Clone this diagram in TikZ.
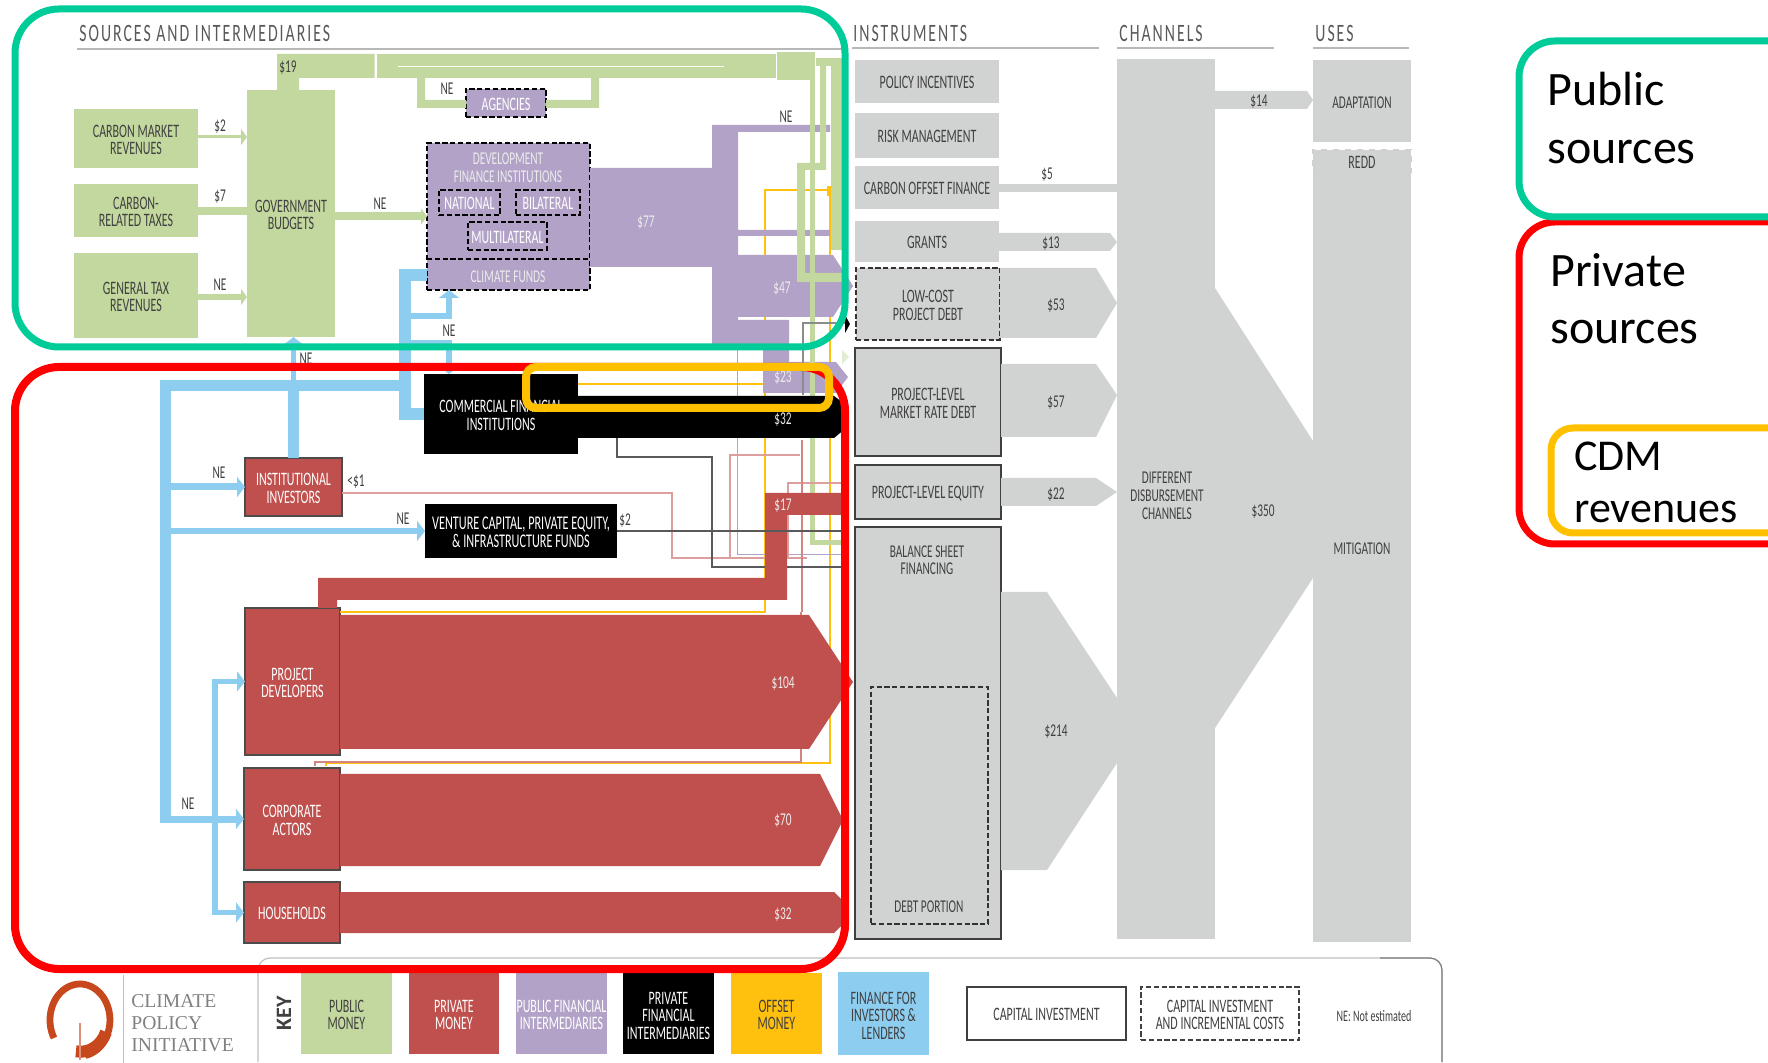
\documentclass[tikz,border=0pt]{standalone}
\usepackage{fontspec}
\setmainfont{Carlito}
\newfontfamily\narrowfont[FakeStretch=0.63]{Carlito}
\newfontfamily\logofont{Liberation Serif}
\usetikzlibrary{arrows.meta,positioning}
\definecolor{pubgreen}{HTML}{C3D89E}
\definecolor{pvtred}{HTML}{C0504D}
\definecolor{pubpurple}{HTML}{B2A2C7}
\definecolor{offset}{HTML}{FFC00E}
\definecolor{finblue}{HTML}{8DCDF0}
\definecolor{flowgrey}{HTML}{D1D3D2}
\definecolor{txtgrey}{HTML}{404040}
\definecolor{framegreen}{HTML}{00CC99}
\definecolor{framered}{HTML}{FF0000}
\definecolor{frameamber}{HTML}{FFC000}
\definecolor{logoring}{HTML}{C8481E}

\begin{document}
\begin{tikzpicture}[
    x=0.5pt, y=-0.5pt,
    wh/.style 2 args={minimum width=#1*0.5pt, minimum height=#2*0.5pt},
    box/.style={inner sep=0pt, outer sep=0pt, align=center, text=txtgrey, font=\narrowfont\fontsize{9.5}{8.9}\selectfont, execute at begin node={\rule{0pt}{7.5pt}}},
    multi/.style={text height=#1},
    multi/.default=16.4pt,
    srcbox/.style={box, fill=pubgreen},
    dfibox/.style={box, fill=pubpurple, text=white, draw=black, line width=1.2pt, dash pattern=on 2.6pt off 1.3pt},
    pvtbox/.style={box, fill=pvtred, text=white, draw=black!70, line width=0.9pt},
    blackbox/.style={box, fill=black, text=white},
    instbox/.style={box, fill=flowgrey},
    capbox/.style={instbox, draw=black!75, line width=1.1pt},
    dashbox/.style={instbox, draw=black!80, line width=1.1pt, dash pattern=on 2.6pt off 1.3pt},
    keybox/.style={box, fill=#1},
    flowtxt/.style={inner sep=0pt, yshift=-0.4pt, text=txtgrey, align=center, font=\narrowfont\fontsize{9}{8.9}\selectfont},
    paletxt/.style={flowtxt, text=white!92!black},
    headtxt/.style={inner sep=0pt, anchor=west, text=black!65, font=\narrowfont\fontsize{12.5}{13}\selectfont\addfontfeature{LetterSpace=8}},
    rulerline/.style={draw=black!28, line width=1.4pt},
    greenflow/.style={fill=pubgreen},
    greenline/.style={draw=pubgreen, line width=#1},
    blueline/.style={draw=finblue, line width=#1},
    bluetip/.style={-{Triangle[length=4pt,width=10pt]}},
    greentip/.style={-{Triangle[length=3pt,width=8pt]}},
    thinred/.style={draw=pvtred!55, line width=0.6pt},
    frame/.style={inner sep=0pt, outer sep=0pt, rounded corners=#1},
    bigtxt/.style={inner sep=0pt, anchor=west, text=black, font=\fontsize{24}{24}\selectfont}
  ]
    \useasboundingbox (0,0) rectangle (1768,1063);
    \clip (0,0) rectangle (1768,1063);

    % headings
    \node[headtxt] (headsources) at (79,33) {SOURCES AND INTERMEDIARIES};
    \node[headtxt] (headinstr) at (853,33) {INSTRUMENTS};
    \node[headtxt] (headchan) at (1119,33) {CHANNELS};
    \node[headtxt] (headuses) at (1315,33) {USES};
    \draw[rulerline] (77,49) -- (848,49);
    \draw[rulerline] (852,48) -- (1099,48);
    \draw[rulerline] (1117,48) -- (1274,48);
    \draw[rulerline] (1313,48) -- (1409,48);

    % sources
    \node[srcbox, multi, wh={124}{59}] (market) at (136,138.5) {CARBON MARKET\\REVENUES};
    \node[srcbox, multi, wh={124}{53}] (taxes) at (136,210.5) {CARBON-\\RELATED TAXES};
    \node[srcbox, multi, wh={124}{85}] (general) at (136,295.5) {GENERAL TAX\\REVENUES};
    \node[srcbox, multi, wh={88}{247}] (budgets) at (291,213.5) {GOVERNMENT\\BUDGETS};

    % intermediaries
    \node[dfibox, wh={163}{147}] (dfi) at (508.5,216.5) {};
    \draw[black, line width=1.2pt, dash pattern=on 2.6pt off 1.3pt] (dfi.west |- 0,259) -- (dfi.east |- 0,259);
    \node[paletxt] (dfitext) at (508,167) {DEVELOPMENT\\FINANCE INSTITUTIONS};
    \node[dfibox, wh={61}{25}] (national) at (469.5,202.5) {NATIONAL};
    \node[dfibox, wh={64}{25}] (bilateral) at (548,202.5) {BILATERAL};
    \node[dfibox, wh={79}{28}] (multilateral) at (507.5,236) {MULTILATERAL};
    \node[paletxt] (climatefunds) at (508,276) {CLIMATE FUNDS};
    \node[dfibox, wh={80}{28}] (agencies) at (506,103) {AGENCIES};

    \node[blackbox, multi, wh={154}{80}] (commercial) at (501,414) {COMMERCIAL FINANCIAL\\INSTITUTIONS};
    \node[pvtbox, multi, wh={97}{58}] (institutional) at (293.5,487) {INSTITUTIONAL\\INVESTORS};
    \node[blackbox, multi, wh={192}{54}, font=\narrowfont\fontsize{9.7}{8.9}\selectfont] (venture) at (521,531) {VENTURE CAPITAL, PRIVATE EQUITY,\\\& INFRASTRUCTURE FUNDS};
    \node[pvtbox, multi, wh={95}{147}] (developers) at (292.5,681.5) {PROJECT\\DEVELOPERS};
    \node[pvtbox, multi, wh={96}{102}] (corporate) at (292,819) {CORPORATE\\ACTORS};
    \node[pvtbox, wh={96}{61}] (households) at (292,912.5) {HOUSEHOLDS};

    % instruments
    \node[instbox, wh={144}{43}] (policy) at (927,81.5) {POLICY INCENTIVES};
    \node[instbox, wh={144}{45}] (risk) at (927,135.5) {RISK MANAGEMENT};
    \node[instbox, wh={144}{43}] (offsetfin) at (927,187.5) {CARBON OFFSET FINANCE};
    \node[instbox, wh={144}{41}] (grants) at (927,241.5) {GRANTS};
    \node[dashbox, multi, wh={144}{72}] (lowcost) at (928,304) {LOW-COST\\PROJECT DEBT};
    \node[capbox, multi, wh={146}{108}] (marketdebt) at (928,402) {PROJECT-LEVEL\\MARKET RATE DEBT};
    \node[capbox, wh={146}{54}] (equity) at (928,492) {PROJECT-LEVEL EQUITY};
    \node[capbox, wh={146}{412}] (balance) at (928,733) {};
    \node[flowtxt] (balancetext) at (927,559.5) {BALANCE SHEET\\FINANCING};
    \node[dashbox, wh={117}{237}] (debtpart) at (929.5,805.5) {};
    \node[flowtxt] (debttext) at (929,906) {DEBT PORTION};

    % channels and uses
    \node[instbox, wh={98}{880}] (channels) at (1166,499) {};
    \fill[flowgrey] (channels.east |- 0,288) -- (1313,441) -- (1313,578) -- (channels.east |- 0,728) -- cycle;
    \node[flowtxt] (channelstext) at (1167,495) {DIFFERENT\\DISBURSEMENT\\CHANNELS};
    \node[instbox, wh={98}{82}] (adaptation) at (1362,101) {};
    \node[flowtxt] (adaptationtext) at (1362,102) {ADAPTATION};
    \node[instbox, wh={98}{770}] (mitigation) at (1362,557) {};
    \node[flowtxt] (mitigationtext) at (1362,548) {MITIGATION};
    \node[instbox, wh={98}{22}, draw=black!18, line width=0.6pt, dashed] (redd) at (1362,161) {REDD};

    % grey flows
    \fill[flowgrey] (offsetfin.east |- 0,184) -- (channels.west |- 0,184) -- (channels.west |- 0,192) -- (offsetfin.east |- 0,192) -- cycle;
    \fill[flowgrey] (grants.east |- 0,233) -- (1110,233) -- (channels.west |- 0,242) -- (1110,251) -- (grants.east |- 0,251) -- cycle;
    \fill[flowgrey] (lowcost.east |- 0,268) -- (1096,268) -- (channels.west |- 0,303) -- (1096,338) -- (lowcost.east |- 0,338) -- cycle;
    \fill[flowgrey] (marketdebt.east |- 0,364) -- (1096,364) -- (channels.west |- 0,395) -- (1096,437) -- (marketdebt.east |- 0,437) -- cycle;
    \fill[flowgrey] (equity.east |- 0,478) -- (1096,478) -- (channels.west |- 0,492) -- (1096,506) -- (equity.east |- 0,506) -- cycle;
    \fill[flowgrey] (balance.east |- 0,592) -- (1047,592) -- (channels.west |- 0,698) -- (channels.west |- 0,763) -- (1047,870) -- (balance.east |- 0,870) -- cycle;
    \fill[flowgrey] (channels.east |- 0,91) -- (1307,91) -- (adaptation.west |- 0,100) -- (1307,109) -- (channels.east |- 0,109) -- cycle;
    \node[flowtxt] (v5) at (1047,174) {\$5};
    \node[flowtxt] (v13) at (1051,243) {\$13};
    \node[flowtxt] (v53) at (1056,305) {\$53};
    \node[flowtxt] (v57) at (1056,402) {\$57};
    \node[flowtxt] (v22) at (1056,494) {\$22};
    \node[flowtxt] (v214) at (1056,731) {\$214};
    \node[flowtxt] (v350) at (1263,511) {\$350};
    \node[flowtxt] (v14) at (1259,101) {\$14};

    % finance for investors and lenders
    \draw[blueline=5.5pt] (165.5,823) -- (165.5,385.5) -- (405,385.5);
    \draw[blueline=6pt] (dfi.west |- 0,275.5) -- (404.5,275.5) -- (404.5,414) -- (commercial.west);
    \draw[blueline=3pt, bluetip] (410,316) -- (449,316) -- (449,0 |- dfi.south);
    \draw[blueline=3pt, bluetip] (410,343) -- (449,343) -- (449,0 |- commercial.north);
    \draw[blueline=5.5pt] (institutional.north) -- (institutional.north |- 0,385.5);
    \draw[blueline=2.5pt, bluetip] (institutional.north |- 0,385.5) -- (institutional.north |- budgets.south);
    \draw[blueline=3.5pt, bluetip] (171,487) -- (institutional.west);
    \draw[blueline=3pt, bluetip] (171,531) -- (venture.west);
    \draw[blueline=3.5pt, bluetip] (160,819) -- (corporate.west);
    \draw[blueline=2.75pt, bluetip] (215,819) -- (215,681.5) -- (developers.west);
    \draw[blueline=2.75pt, bluetip] (215,819) -- (215,912.5) -- (households.west);
    \node[flowtxt] (neinvest) at (219,472) {NE};
    \node[flowtxt] (neventure) at (403,518) {NE};
    \node[flowtxt] (necorp) at (188,803) {NE};
    \node[flowtxt] (nedfi) at (449,330) {NE};
    \node[flowtxt] (nebudget) at (306,358) {NE};

    % offset money
    \draw[offset, line width=1.1pt] (developers.east |- 0,612) -- (765,612) -- (765,190) -- (827,190);
    \fill[offset] (827,186) rectangle (832,196);
    \draw[offset, line width=1.1pt] (commercial.east |- 0,384) -- (763,384);
    \draw[offset, line width=1pt] (326,766) -- (326,763) -- (830,763) -- (830,190);

    % public money
    \fill[greenflow] (277,90) -- (277,54) -- (374.5,54) -- (374.5,78) -- (299,78) -- (299,90) -- cycle;
    \fill[greenflow] (377,54) rectangle (776,78);
    \fill[greenflow] (777,52) rectangle (815,80);
    \draw[white, line width=0.5pt] (398,67) -- (724,67);
    \fill[greenflow] (417,78) -- (425,78) -- (425,100) -- (agencies.west |- 0,100) -- (agencies.west |- 0,108) -- (417,108) -- cycle;
    \fill[greenflow] (591,78) -- (599,78) -- (599,108) -- (agencies.east |- 0,108) -- (agencies.east |- 0,100) -- (591,100) -- cycle;
    \draw[greenline=1.5pt, greentip] (market.east |- 0,137) -- (budgets.west |- 0,137);
    \draw[greenline=4pt] (taxes.east |- 0,211) -- (budgets.west |- 0,211);
    \draw[greenline=3pt, greentip] (general.east |- 0,297) -- (budgets.west |- 0,297);
    \draw[greenline=4pt, greentip] (budgets.east |- dfi.west) -- (dfi.west);
    \node[flowtxt] (v2) at (220,126) {\$2};
    \node[flowtxt] (v7) at (220,196) {\$7};
    \node[flowtxt] (negeneral) at (220,284) {NE};
    \node[flowtxt] (nebudgetdfi) at (380,203) {NE};
    \node[flowtxt] (v19) at (288,67) {\$19};
    \node[flowtxt] (neagencies) at (447,88) {NE};

    % public financial intermediaries
    \fill[pubpurple] (dfi.east |- 0,168) -- (712,168) -- (712,125) -- (830,125) -- (830,132) -- (738,132) -- (738,230) -- (830,230) -- (830,236) -- (738,236) -- (738,255) -- (833,255) -- (853,286) -- (833,317) -- (738,317) -- (738,320) -- (789,320) -- (789,362) -- (836,362) -- (848,377) -- (836,393) -- (763,393) -- (763,350) -- (712,350) -- (712,267) -- (dfi.east |- 0,267) -- cycle;
    \draw[pubpurple, line width=0.5pt] (737,350) -- (737,555) -- (845,555);
    \node[paletxt] (v77) at (646,222) {\$77};
    \node[paletxt] (v47) at (782,288) {\$47};
    \node[paletxt] (v23) at (783,377) {\$23};
    \node[flowtxt] (nepurple) at (786,116) {NE};

    % green lines to the instruments
    \fill[greenflow] (816,58) rectangle (848,66);
    \fill[greenflow] (831,66) rectangle (842,250);
    \fill[greenflow] (820,66) -- (826,66) -- (826,170) -- (805,170) -- (805,273) -- (848,273) -- (848,282) -- (797,282) -- (797,163) -- (820,163) -- cycle;
    \fill[greenflow] (810,80) rectangle (815,396);
    \fill[greenflow] (810,438) rectangle (815,545);
    \fill[greenflow] (810,540) rectangle (845,545);
    \fill[pubgreen!45] (842,350) -- (849,357) -- (842,364) -- cycle;

    % thin lines
    \draw[thinred] (institutional.east |- 0,493) -- (672,493) -- (672,558) -- (807,558);
    \draw[thinred] (730,558) -- (730,455) -- (800,455);
    \draw[thinred] (788,558) -- (788,483) -- (845,483);
    \draw[pvtred!70, line width=0.8pt] (802,440) -- (802,612);
    \draw[pvtred!70, line width=0.8pt] (315,766) -- (315,762) -- (801,762) -- (801,612);
    \draw[black!45, line width=0.6pt] (803,395) -- (803,323) -- (845,323);
    \fill[black] (845,315) -- (850,324) -- (845,333) -- cycle;

    % private financial intermediaries
    \fill[black] (commercial.east |- 0,396) -- (834,396) -- (846,405) -- (846,428) -- (834,438) -- (commercial.east |- 0,438) -- cycle;
    \node[paletxt] (v32b) at (783,419) {\$32};
    \draw[black!65, line width=1pt] (617,438) -- (617,457) -- (712,457) -- (712,567) -- (845,567);
    \node[flowtxt] (v1) at (356,481) {<\$1};
    \node[flowtxt] (v2b) at (625,520) {\$2};

    % private money
    \fill[pvtred] (318,608) -- (318,578) -- (765,578) -- (765,493) -- (845,493) -- (845,515) -- (787,515) -- (787,600) -- (337,600) -- (337,608) -- cycle;
    \fill[pvtred] (developers.east |- 0,615) -- (809,615) -- (853,682) -- (809,749) -- (developers.east |- 0,749) -- cycle;
    \fill[pvtred] (corporate.east |- 0,774) -- (820,774) -- (843,820) -- (820,866) -- (corporate.east |- 0,866) -- cycle;
    \fill[pvtred] (households.east |- 0,892) -- (834,892) -- (843,901) -- (843,924) -- (834,933) -- (households.east |- 0,933) -- cycle;
    \draw[black!65, line width=0.9pt] (venture.east) -- (845,531);
    \node[paletxt] (v17) at (783,505) {\$17};
    \node[paletxt] (v104) at (783,683) {\$104};
    \node[paletxt] (v70) at (783,820) {\$70};
    \node[paletxt] (v32) at (783,914) {\$32};

    % key
    \draw[black!25, line width=0.6pt, rounded corners=6pt] (258,1062) -- (258,958) -- (1442,958) -- (1442,1062);
    \draw[black!50, line width=0.6pt, rounded corners=6pt] (1380,958) -- (1442,958) -- (1442,1062);
    \node[inner sep=0pt, rotate=90, text=txtgrey, font=\bfseries\fontsize{11}{12}\selectfont] (keytitle) at (284,1013) {KEY};
    \node[keybox=pubgreen, multi, wh={91}{81}] (keypublic) at (346.5,1013.5) {PUBLIC\\MONEY};
    \node[keybox=pvtred, multi, wh={90}{81}, text=white] (keyprivate) at (454,1013.5) {PRIVATE\\MONEY};
    \node[keybox=pubpurple, multi, wh={91}{81}, text=white] (keypubfin) at (561.5,1013.5) {PUBLIC FINANCIAL\\INTERMEDIARIES};
    \node[keybox=black, multi=26.3pt, wh={91}{81}, text=white] (keypvtfin) at (668.5,1013.5) {PRIVATE\\FINANCIAL\\INTERMEDIARIES};
    \node[keybox=offset, multi, wh={91}{81}] (keyoffset) at (776.5,1013.5) {OFFSET\\MONEY};
    \node[keybox=finblue, multi=26.3pt, wh={91}{83}] (keyfinance) at (883.5,1013.5) {FINANCE FOR\\INVESTORS \&\\LENDERS};
    \node[box, wh={159}{53}, draw=black!75, line width=1.1pt] (keycapital) at (1046.5,1013.5) {CAPITAL INVESTMENT};
    \node[box, multi, wh={158}{53}, draw=black!75, line width=1.1pt, dash pattern=on 2.6pt off 1.3pt] (keyincrement) at (1220,1013.5) {CAPITAL INVESTMENT\\AND INCREMENTAL COSTS};
    \node[flowtxt, font=\narrowfont\fontsize{8}{8}\selectfont] (keyne) at (1374,1015) {NE: Not estimated};

    % logo
    \draw[logoring, line width=3.4pt] (54,1038) arc[start angle=150, end angle=440, x radius=30, y radius=36];
    \draw[logoring, line width=6pt] (106,1032) arc[start angle=20, end angle=100, x radius=27, y radius=30];
    \draw[logoring!60, line width=0.8pt] (80,1023) -- (80,1060);
    \draw[black!25, line width=0.5pt] (123,975) -- (123,1063);
    \node[inner sep=0pt, anchor=north west, align=left, text=black!50, font=\logofont\fontsize{9.8}{11}\selectfont] (logotext) at (131,994) {CLIMATE\\POLICY\\INITIATIVE};

    % frames over the chart
    \node[frame=22pt, wh={830}{338}, draw=framegreen, line width=3.5pt] (publicframe) at (430,178) {};
    \node[frame=22pt, wh={830}{602}, draw=framered, line width=4pt] (privateframe) at (430,668) {};
    \node[frame=5pt, wh={303}{41}, draw=frameamber, line width=4pt] (cdmframe) at (677.5,387.5) {};

    % legend at the right
    \node[frame=18pt, wh={300}{322}, draw=framered, line width=3.5pt] (privatekey) at (1669,383) {};
    \node[frame=18pt, wh={300}{176}, draw=framegreen, line width=3.5pt, fill=white] (publickey) at (1669,129) {};
    \node[frame=11pt, wh={270}{105}, draw=frameamber, line width=3.5pt, fill=white] (cdmkey) at (1686,480.5) {};
    \node[bigtxt] (publictext) at (1547,89) {Public};
    \node[bigtxt] (publictexttwo) at (1547,152) {sources};
    \node[bigtxt] (privatetext) at (1550,270) {Private};
    \node[bigtxt] (privatetexttwo) at (1550,332) {sources};
    \node[bigtxt, font=\fontsize{22}{22}\selectfont] (cdmtext) at (1574,456) {CDM};
    \node[bigtxt, font=\fontsize{22}{22}\selectfont] (cdmtexttwo) at (1574,512) {revenues};
\end{tikzpicture}
\end{document}
